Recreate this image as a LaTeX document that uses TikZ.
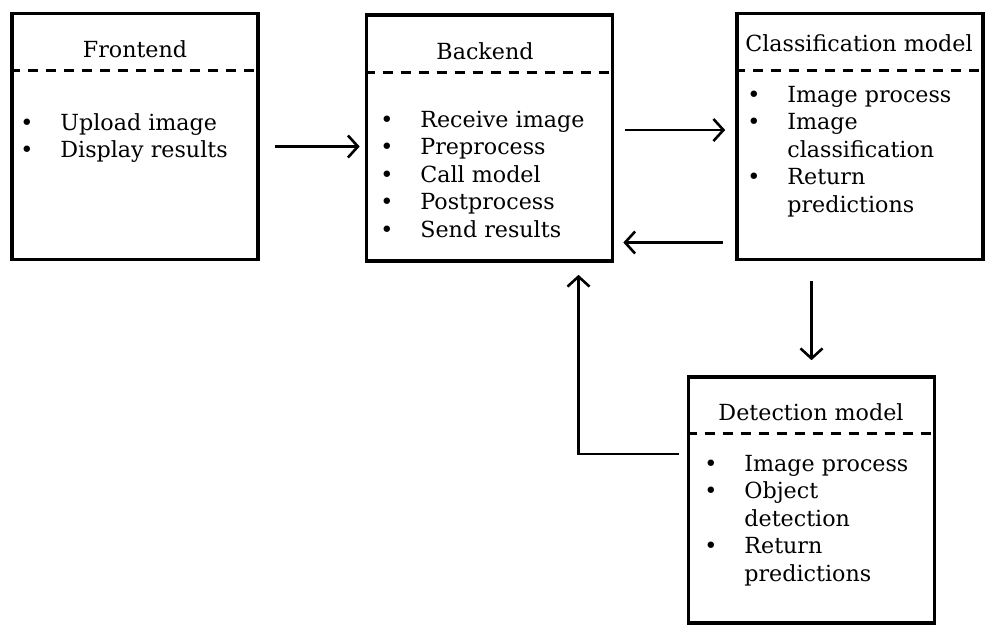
\documentclass[tikz,border=0pt]{standalone}
\usepackage{fontspec}
\setmainfont{DejaVu Serif}
\usetikzlibrary{arrows.meta}
\tikzset{>={Straight Barb[length=5pt,width=11pt,line width=1.3pt]}}
\newcommand{\mainsize}{\fontsize{11.1}{13.75}\selectfont}
\newcommand{\bul}{\textbullet}
\newenvironment{points}{\begin{tabular}[t]{@{}p{20pt}@{}l@{}}}{\end{tabular}}
\tikzset{
  box/.style={draw,line width=1.8pt,minimum width=123pt,minimum height=123pt,inner sep=0pt},
  sep/.style={line width=1.5pt,dash pattern=on 5pt off 4pt},
  title/.style={anchor=base,inner sep=0pt,font=\mainsize},
  list/.style={anchor=base west,inner sep=0pt,font=\mainsize},
  link/.style={->,line width=1.3pt}
}

\begin{document}
\begin{tikzpicture}[x=0.5pt,y=-0.5pt]
  \useasboundingbox (0,0) rectangle (1000,639);
  % boxes
  \node[box] (front) at (135,136.5) {};
  \node[box] (back)  at (489.5,138) {};
  \node[box] (class) at (860,136.5) {};
  \node[box] (det)   at (811.5,500) {};
  % separators
  \draw[sep] (front.west |- 0,70)  -- (front.east |- 0,70);
  \draw[sep] (back.west |- 0,72)   -- (back.east |- 0,72);
  \draw[sep] (class.west |- 0,70)  -- (class.east |- 0,70);
  \draw[sep] (det.west |- 0,433)   -- (det.east |- 0,433);
  % titles
  \node[title] (front title) at (135,57)  {Frontend};
  \node[title] (back title)  at (485,59)  {Backend};
  \node[title] (class title) at (859,51)  {Classification model};
  \node[title] (det title)   at (811,420) {Detection model};
  % contents
  \node[list] (front list) at (20,130) {\begin{points}
    \bul & Upload image\\
    \bul & Display results
  \end{points}};
  \node[list] (back list) at (380,127) {\begin{points}
    \bul & Receive image\\
    \bul & Preprocess\\
    \bul & Call model\\
    \bul & Postprocess\\
    \bul & Send results
  \end{points}};
  \node[list] (class list) at (747,102) {\begin{points}
    \bul & Image process\\
    \bul & Image\\
         & classification\\
    \bul & Return\\
         & predictions
  \end{points}};
  \node[list] (det list) at (704,471) {\begin{points}
    \bul & Image process\\
    \bul & Object\\
         & detection\\
    \bul & Return\\
         & predictions
  \end{points}};
  % connectors
  \draw[link,shorten <=7.5pt,shorten >=2.5pt] ([yshift=-5pt]front.east) -- ([yshift=-5pt]front.east -| back.west);
  \draw[link,shorten <=5.5pt,shorten >=5pt] ([yshift=4pt]back.east) -- ([yshift=4pt]back.east -| class.west);
  \draw[link,shorten <=6pt,shorten >=4.5pt] ([yshift=-53pt]class.west) -- ([yshift=-53pt]class.west -| back.east);
  \draw[link,shorten <=10pt,shorten >=7.5pt] (det.north |- class.south) -- (det.north);
  \draw[link,shorten <=4pt,shorten >=6pt] ([yshift=23pt]det.west) -| ([xshift=44.5pt]back.south);
\end{tikzpicture}
\end{document}
